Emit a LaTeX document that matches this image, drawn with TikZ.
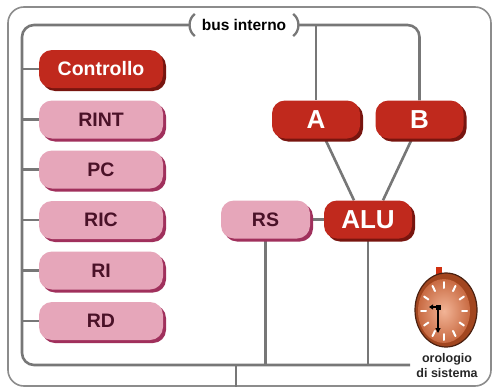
\documentclass[tikz,border=0pt]{standalone}
\usepackage{fontspec}
\setmainfont{Liberation Sans}
\usetikzlibrary{shadows,backgrounds,calc,arrows.meta}
\definecolor{redfill}{HTML}{C0291D}
\definecolor{redshadow}{HTML}{78150F}
\definecolor{pinkfill}{HTML}{E6A6BA}
\definecolor{pinkshadow}{HTML}{A0305C}
\definecolor{pinktext}{HTML}{4A1228}
\definecolor{busgray}{HTML}{777777}
\definecolor{framegray}{HTML}{8C8C8C}
\definecolor{clockrim}{HTML}{A2461F}
\definecolor{clockedge}{HTML}{4A2010}
\definecolor{facelight}{HTML}{F2B496}
\definecolor{facedark}{HTML}{C86A42}
\definecolor{knob}{HTML}{D03010}
\tikzset{
  busline/.style={draw=busgray, line width=2.6pt},
  frameline/.style={draw=framegray, line width=1.6pt, rounded corners=16pt},
  boxbase/.style={rounded corners=13pt, inner sep=0pt, minimum height=38pt},
  redbox/.style={boxbase, fill=redfill, text=white,
    general shadow={fill=redshadow, shadow xshift=3pt, shadow yshift=-3pt}},
  pinkbox/.style={boxbase, fill=pinkfill, text=pinktext, minimum width=124pt,
    font=\bfseries\fontsize{19.5}{19.5}\selectfont,
    general shadow={fill=pinkshadow, shadow xshift=3pt, shadow yshift=-3pt}},
  bigred/.style={redbox, minimum width=88pt, font=\bfseries\fontsize{26}{26}\selectfont},
  buslabel/.style={inner sep=0pt, minimum width=108pt, font=\bfseries\fontsize{15.5}{15.5}\selectfont},
  clocktext/.style={align=center, font=\bfseries\fontsize{12.5}{15}\selectfont, text=black!85},
}
\begin{document}
\begin{tikzpicture}[x=1pt,y=-1pt]
\useasboundingbox (0,0) rectangle (492,388);

% nodes
\node[redbox, minimum width=124pt, font=\bfseries\fontsize{19.5}{19.5}\selectfont] (ctrl) at (101,69) {Controllo};
\node[pinkbox] (rint) at (101,119.5) {RINT};
\node[pinkbox] (pc) at (101,169.5) {PC};
\node[pinkbox] (ric) at (101,220) {RIC};
\node[pinkbox] (ri) at (101,270.5) {RI};
\node[pinkbox] (rd) at (101,321) {RD};
\node[bigred] (A) at (316,119.5) {A};
\node[bigred] (B) at (419.5,119.5) {B};
\node[bigred] (alu) at (368,219.5) {ALU};
\node[pinkbox, minimum width=89pt] (rs) at (265.5,219.5) {RS};
\node[buslabel] (bus) at (244,25) {bus interno};
\coordinate (tl) at (22,25);
\coordinate (bl) at (22,365);
\coordinate (bend) at (410,365);
\coordinate (join) at (236,365);
\coordinate (out) at (236,387);

\begin{pgfonlayer}{background}
\fill[white] (0,0) rectangle (492,388);
\draw[frameline] (8,7) rectangle (491,386);
\draw[busline, rounded corners=12pt] (bus.west) -- (tl) -- (bl) -- (bend);
\draw[busline, rounded corners=12pt] (bus.east) -- (B.north |- bus.east) -- (B.north);
\draw[busline] (A.north |- bus.east) -- (A.north);
\foreach \n in {ctrl,rint,pc,ric,ri,rd}
  \draw[busline] (\n.west -| tl) -- (\n.west);
\draw[busline] (rs.south) -- (rs.south |- bend);
\draw[busline] (alu.south) -- (alu.south |- bend);
\draw[busline] (join) -- (out);
\draw[busline] ([xshift=9pt]A.south) -- ([xshift=-14pt]alu.north);
\draw[busline] ([xshift=-7.5pt]B.south) -- ([xshift=15pt]alu.north);
\draw[busline] (rs.east) -- (alu.west);
\end{pgfonlayer}

% parentheses of the bus label
\draw[busline, line width=2.3pt] ($(bus.west)+(5,-11)$) .. controls ($(bus.west)+(-2,-6)$) and ($(bus.west)+(-2,6)$) .. ($(bus.west)+(5,11)$);
\draw[busline, line width=2.3pt] ($(bus.east)+(-5,-11)$) .. controls ($(bus.east)+(2,-6)$) and ($(bus.east)+(2,6)$) .. ($(bus.east)+(-5,11)$);

% clock
\fill[knob] (436,267) rectangle (442,274);
\draw[clockedge, fill=clockrim, line width=1.2pt] (446,310) ellipse [x radius=31, y radius=37];
\shade[inner color=facelight, outer color=facedark] (444,311) ellipse [x radius=26, y radius=32];
\foreach \a in {0,30,...,330}
  \draw[white, line width=2pt, line cap=round]
    ($(444,311)+({18*cos(\a)},{23*sin(\a)})$) -- ($(444,311)+({23*cos(\a)},{29*sin(\a)})$);
\draw[black, line width=2pt, -{Triangle[length=5pt,width=5pt]}] (438,307) -- (438,333);
\draw[black, line width=2pt, -{Triangle[length=4pt,width=5pt]}] (438,307) -- (429,307);
\fill[black] (435.5,304.5) rectangle (440.5,309.5);
\node[clocktext] (clk) at (447,366) {orologio\\di sistema};
\end{tikzpicture}
\end{document}
